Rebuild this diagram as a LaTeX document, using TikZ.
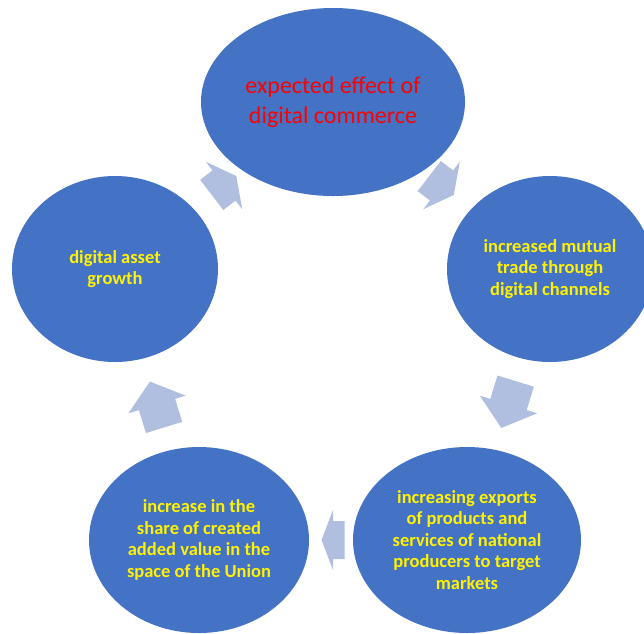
\documentclass[tikz,border=0pt]{standalone}
\usepackage{fontspec}
\setmainfont{Carlito}
\usetikzlibrary{shapes.geometric,calc}
\definecolor{blob}{RGB}{68,114,196}
\definecolor{pale}{RGB}{176,190,224}
\tikzset{
  bubble/.style={ellipse, fill=blob, inner sep=0pt, minimum height=186pt,
    align=center, text=yellow, font=\bfseries\fontsize{18.5}{21.5}\selectfont},
  cyc/.pic={\fill[pale] (-#1,-19) -- (0,-19) -- (0,-30) -- (#1,0)
    -- (0,30) -- (0,19) -- (-#1,19) -- cycle;}
}
% block arrow half way between two nodes, pointing from #1 to #2, half length #3
\newcommand{\cycarrow}[3]{%
  \path let \p1=($(#2)-(#1)$), \n1={atan2(\y1,\x1)} in
    ($(#1)!.5!(#2)$) pic[rotate=\n1]{cyc=#3};}
\begin{document}
\begin{tikzpicture}[x=1pt,y=-1pt]
      \useasboundingbox (0,0) rectangle (644,633);
      \draw
        (333,102) node[bubble, minimum width=264pt, minimum height=188pt, text=red,
          font=\fontsize{24}{30}\selectfont] (0){expected effect of\\digital commerce}
        (550,269) node[bubble, minimum width=206pt] (1){increased mutual\\trade through\\digital channels}
        (467,540) node[bubble, minimum width=228pt] (2){increasing exports\\of products and\\services of national\\producers to target\\markets}
        (199,540) node[bubble, minimum width=220pt] (3){increase in the\\share of created\\added value in the\\space of the Union}
        (115,269) node[bubble, minimum width=206pt] (4){digital asset\\growth};
      \begin{scope}
        \cycarrow{4.center}{0.center}{15.5}
        \cycarrow{0.center}{1.center}{15.5}
        \cycarrow{1.center}{2.center}{24.5}
        \cycarrow{2.center}{3.center}{11.5}
        \cycarrow{3.center}{4.center}{24}
      \end{scope}
    \end{tikzpicture}
\end{document}
